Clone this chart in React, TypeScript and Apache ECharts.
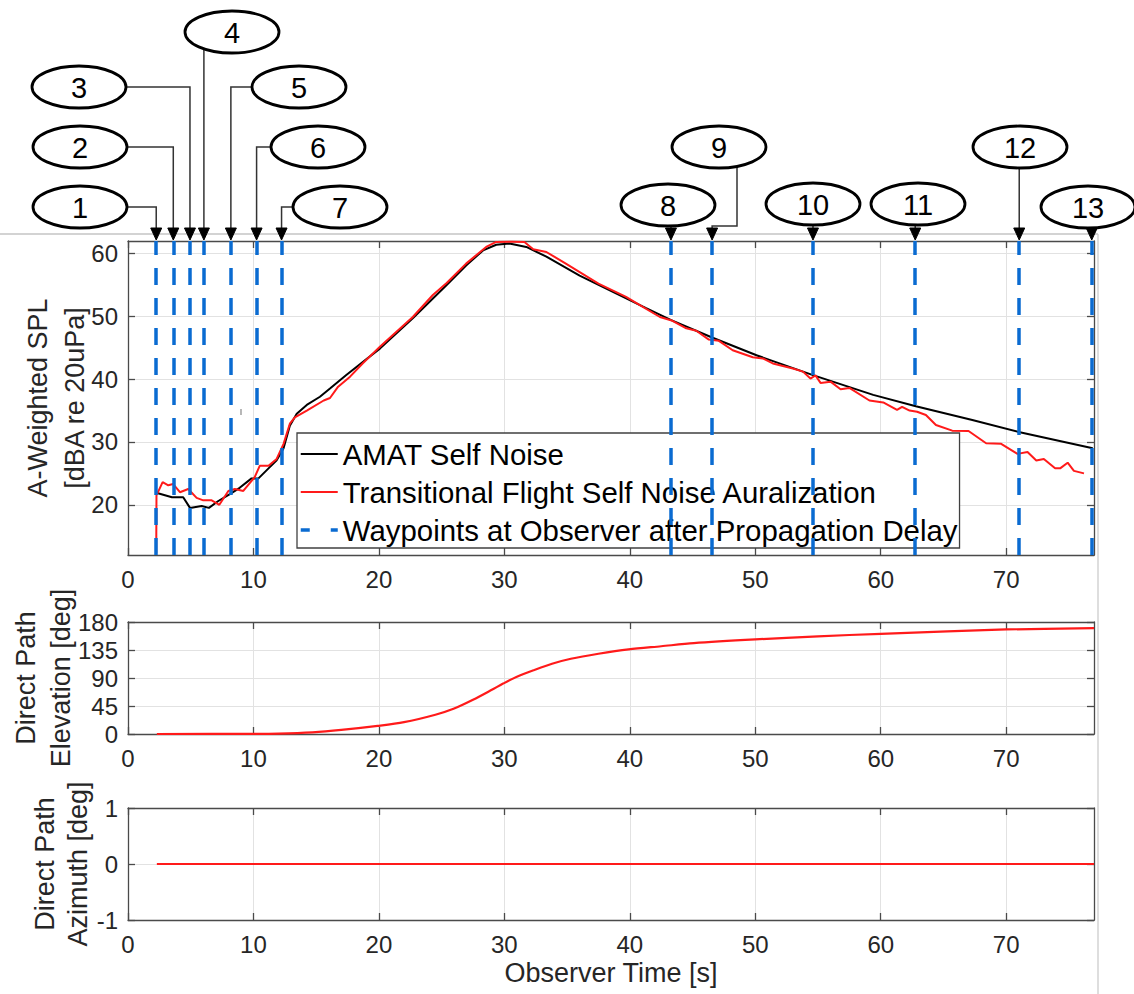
import React, { useEffect, useRef } from "react";
import * as echarts from "echarts";

const FONT = "'Liberation Sans', Arial, Helvetica, sans-serif";

// ---------- data ----------
const amatTime = [2.25, 3.5, 4.4, 4.94, 5.87, 6.45, 7.2, 8.12, 8.9, 9.85, 10.4, 11.2, 11.85, 12.4, 12.9, 13.45, 14.25, 15.3, 16.1, 17.4, 20.1, 22.7, 25.4, 26.95, 28.3, 29.35, 30.4, 31.75, 33.35, 36.0, 38.65, 41.3, 43.3, 46.6, 50.1, 54.6, 59.4, 62.8, 67.3, 71.0, 76.9];
const amatSpl = [21.9, 21.2, 21.2, 19.5, 19.8, 19.5, 20.6, 21.7, 22.7, 24.2, 24.2, 25.8, 27.1, 29.0, 32.6, 34.5, 35.9, 37.2, 38.5, 40.65, 44.9, 49.7, 55.0, 58.1, 60.5, 61.4, 61.6, 61.05, 59.5, 56.5, 53.9, 51.3, 49.4, 46.6, 43.8, 40.65, 37.5, 35.7, 33.5, 31.6, 29.0];

const auralTime = [2.25, 2.27, 2.76, 3.21, 3.6, 4.14, 4.8, 5.47, 6.0, 6.67, 7.28, 8.0, 8.52, 9.19, 10.1, 10.5, 11.2, 11.85, 12.4, 12.9, 13.3, 14.25, 15.6, 16.1, 16.75, 17.7, 18.7, 20.1, 22.7, 24.3, 25.4, 26.95, 28.55, 29.35, 30.65, 31.6, 32.3, 33.35, 34.9, 36.2, 37.5, 39.7, 40.8, 42.4, 43.4, 44.5, 45.3, 46.3, 47.1, 48.2, 49.8, 50.6, 51.4, 53.0, 53.8, 54.4, 54.8, 55.2, 56.0, 56.8, 57.5, 59.1, 60.2, 61.3, 61.7, 62.3, 62.9, 63.6, 64.4, 65.7, 67.0, 68.4, 69.6, 70.9, 71.7, 72.4, 73.0, 73.9, 74.3, 74.9, 75.4, 76.2];
const auralSpl = [12.3, 21.5, 23.6, 23.1, 23.3, 22.0, 22.5, 21.1, 20.7, 20.7, 20.0, 22.2, 22.5, 22.2, 24.4, 26.2, 26.2, 27.3, 29.7, 32.9, 33.9, 35.0, 36.6, 37.0, 38.8, 40.4, 42.5, 45.2, 49.9, 53.4, 55.3, 58.4, 61.05, 61.85, 61.9, 61.85, 60.7, 60.25, 58.4, 56.8, 55.2, 53.1, 51.8, 49.9, 49.3, 48.1, 47.7, 46.3, 46.1, 44.6, 43.5, 43.3, 42.5, 41.7, 41.2, 40.1, 40.6, 39.4, 39.6, 38.4, 38.6, 36.6, 36.3, 35.1, 35.6, 35.0, 34.8, 34.3, 32.7, 31.8, 31.75, 29.8, 29.7, 28.1, 28.4, 27.05, 27.3, 25.8, 25.8, 26.7, 25.4, 25.0];

const waypointTimes = [2.25, 3.61, 4.94, 6.05, 8.2, 10.25, 12.24, 43.28, 46.56, 54.6, 62.75, 71.04, 76.82];
const waypointLabels = ["1", "2", "3", "4", "5", "6", "7", "8", "9", "10", "11", "12", "13"];

const elevTime = [2.3, 10, 12, 14.7, 17, 19.9, 22, 24.5, 26, 27.5, 29, 29.9, 31, 32.4, 33.8, 35.3, 37.5, 39.9, 42.5, 45.1, 50, 55, 60, 65.3, 70, 77];
const elevDeg = [0, 0.2, 0.6, 2.7, 6.5, 13, 19, 31, 41, 55, 71, 81, 92, 103, 113, 121, 129, 136, 141, 146, 152, 157, 161, 165, 168, 170];

const azimTime = [2.3, 20, 40, 60, 77];
const azimDeg = [0, 0, 0, 0, 0];

const xTicks = [0, 10, 20, 30, 40, 50, 60, 70];
const splTicks = [20, 30, 40, 50, 60];
const elevTicks = [0, 45, 90, 135, 180];
const azimTicks = [-1, 0, 1];

const seriesNames = [
  "AMAT Self Noise",
  "Transitional Flight Self Noise Auralization",
  "Waypoints at Observer after Propagation Delay",
];

// ---------- layout (callout bubbles) ----------
const callouts = [
  { cx: 80, cy: 207, route: "left" },
  { cx: 80, cy: 147, route: "left" },
  { cx: 79, cy: 87, route: "left" },
  { cx: 232, cy: 32, route: "down" },
  { cx: 299, cy: 87, route: "right" },
  { cx: 318, cy: 147, route: "right" },
  { cx: 340, cy: 207, route: "right" },
  { cx: 668, cy: 205, route: "down" },
  { cx: 719, cy: 147, route: "jog", jx: 737 },
  { cx: 813, cy: 204, route: "down" },
  { cx: 918, cy: 204, route: "down" },
  { cx: 1020, cy: 147, route: "down" },
  { cx: 1088, cy: 207, route: "down" },
];

const AX = "#4a4a4a";
const TXT = "#262626";
const GRIDC = "#e2e2e2";
const BLUE = "#0a6bd1";
const RED = "#ff1a1a";

const pair = (a: number[], b: number[]) => a.map((v, i) => [v, b[i]]);

function xAxes(gridIndex: number, withName: boolean) {
  return [
    {
      type: "value",
      gridIndex,
      min: 0,
      max: 77,
      position: "bottom",
      axisLine: { show: true, onZero: false, lineStyle: { color: AX, width: 1.3 } },
      axisTick: { show: true, inside: true, length: 7, customValues: xTicks, lineStyle: { color: AX, width: 1.3 } },
      axisLabel: { show: true, customValues: xTicks, fontSize: 24, color: TXT, margin: 12, fontFamily: FONT },
      splitLine: { show: true, lineStyle: { color: GRIDC, width: 1 } },
      name: withName ? "Observer Time [s]" : "",
      nameLocation: "middle",
      nameGap: 39,
      nameMoveOverlap: false,
      nameTextStyle: { fontSize: 27, color: TXT, fontFamily: FONT },
    },
    {
      type: "value",
      gridIndex,
      min: 0,
      max: 77,
      position: "top",
      axisLine: { show: true, onZero: false, lineStyle: { color: AX, width: 1.3 } },
      axisTick: { show: true, inside: true, length: 7, customValues: xTicks, lineStyle: { color: AX, width: 1.3 } },
      axisLabel: { show: false },
      splitLine: { show: false },
    },
  ];
}

function yAxes(
  gridIndex: number,
  min: number,
  max: number,
  ticks: number[],
  name: string,
  nameGap: number,
  lineHeight: number
) {
  return [
    {
      type: "value",
      gridIndex,
      min,
      max,
      position: "left",
      axisLine: { show: true, onZero: false, lineStyle: { color: AX, width: 1.3 } },
      axisTick: { show: true, inside: true, length: 7, customValues: ticks, lineStyle: { color: AX, width: 1.3 } },
      axisLabel: { show: true, customValues: ticks, fontSize: 24, color: TXT, margin: 10, fontFamily: FONT },
      splitLine: { show: true, lineStyle: { color: GRIDC, width: 1 } },
      name,
      nameLocation: "middle",
      nameRotate: 90,
      nameGap,
      nameMoveOverlap: false,
      nameTextStyle: { fontSize: 27, lineHeight, color: TXT, fontFamily: FONT, align: "center" },
    },
    {
      type: "value",
      gridIndex,
      min,
      max,
      position: "right",
      axisLine: { show: true, onZero: false, lineStyle: { color: AX, width: 1.3 } },
      axisTick: { show: true, inside: true, length: 7, customValues: ticks, lineStyle: { color: AX, width: 1.3 } },
      axisLabel: { show: false },
      splitLine: { show: false },
    },
  ];
}

function buildOption(): any {
  const g = { outerBoundsMode: "none", containLabel: false, width: 966, left: 128 };
  return {
    animation: false,
    backgroundColor: "#fff",
    textStyle: { fontFamily: FONT },
    grid: [
      { ...g, top: 241, height: 314 },
      { ...g, top: 622, height: 112 },
      { ...g, top: 808, height: 112 },
    ],
    xAxis: [...xAxes(0, false), ...xAxes(1, false), ...xAxes(2, true)],
    yAxis: [
      ...yAxes(0, 12, 62, splTicks, "A-Weighted SPL\n[dBA re 20uPa]", 35, 37),
      ...yAxes(1, 0, 180, elevTicks, "Direct Path\nElevation [deg]", 50, 35),
      ...yAxes(2, -1, 1, azimTicks, "Direct Path\nAzimuth [deg]", 34, 33),
    ],
    legend: {
      left: 297,
      top: 433,
      orient: "vertical",
      data: [
        { name: seriesNames[0] },
        { name: seriesNames[1] },
        { name: seriesNames[2], lineStyle: { type: [9, 21], width: 3.5, color: BLUE } },
      ],
      itemWidth: 37,
      itemHeight: 14,
      itemGap: 8,
      padding: [6, 2, 3, 2],
      backgroundColor: "#fff",
      borderColor: "#404040",
      borderWidth: 1.3,
      borderRadius: 0,
      selectedMode: false,
      itemStyle: { opacity: 0 },
      textStyle: { fontSize: 29.4, lineHeight: 30, color: "#000", fontFamily: FONT },
    },
    series: [
      {
        name: seriesNames[0],
        type: "line",
        xAxisIndex: 0,
        yAxisIndex: 0,
        data: pair(amatTime, amatSpl),
        symbol: "none",
        lineStyle: { color: "#000", width: 2 },
        itemStyle: { color: "#000" },
        z: 2,
      },
      {
        name: seriesNames[1],
        type: "line",
        xAxisIndex: 0,
        yAxisIndex: 0,
        data: pair(auralTime, auralSpl),
        symbol: "none",
        lineStyle: { color: RED, width: 2 },
        itemStyle: { color: RED },
        z: 3,
      },
      {
        name: seriesNames[2],
        type: "line",
        xAxisIndex: 0,
        yAxisIndex: 0,
        data: [],
        symbol: "none",
        lineStyle: { color: BLUE, width: 3.5, type: [17, 13] },
        itemStyle: { color: BLUE },
        z: 4,
        markLine: {
          silent: true,
          symbol: ["none", "none"],
          label: { show: false },
          lineStyle: { color: BLUE, width: 3.5, type: [17, 13] },
          data: waypointTimes.map((t) => ({ xAxis: t })),
        },
      },
      {
        name: "Elevation",
        type: "line",
        xAxisIndex: 2,
        yAxisIndex: 2,
        data: pair(elevTime, elevDeg),
        symbol: "none",
        smooth: 0.3,
        lineStyle: { color: RED, width: 2.2 },
      },
      {
        name: "Azimuth",
        type: "line",
        xAxisIndex: 4,
        yAxisIndex: 4,
        data: pair(azimTime, azimDeg),
        symbol: "none",
        lineStyle: { color: RED, width: 2.2 },
      },
    ],
  };
}

function buildGraphic(ax: number[]) {
  const RX = 47;
  const RY = 21;
  const ARROW_TOP = 228;
  const ARROW_TIP = 240;
  const els: any[] = [];
  // frame lines of the pasted figure
  els.push({ type: "line", shape: { x1: 0, y1: 234, x2: 1098, y2: 234 }, style: { stroke: "#a8a8a8", lineWidth: 1.2 }, z: 1 });
  els.push({ type: "line", shape: { x1: 1098, y1: 234, x2: 1098, y2: 994 }, style: { stroke: "#c8c8c8", lineWidth: 1.2 }, z: 1 });
  els.push({ type: "line", shape: { x1: 241, y1: 409, x2: 241, y2: 415 }, style: { stroke: "#888", lineWidth: 1.2 }, z: 1 });

  callouts.forEach((c, i) => {
    const x = ax[i];
    let pts: number[][] = [];
    if (c.route === "left") {
      pts = [[c.cx + RX, c.cy], [x, c.cy], [x, ARROW_TOP]];
    } else if (c.route === "right") {
      pts = [[c.cx - RX, c.cy], [x, c.cy], [x, ARROW_TOP]];
    } else if (c.route === "down") {
      const d = Math.min(1, Math.abs(x - c.cx) / RX);
      const yb = c.cy + RY * Math.sqrt(1 - d * d);
      pts = [[x, yb], [x, ARROW_TOP]];
    } else {
      const jx = (c as any).jx as number;
      const d = Math.min(1, Math.abs(jx - c.cx) / RX);
      const yb = c.cy + RY * Math.sqrt(1 - d * d);
      pts = [[jx, yb], [jx, 226], [x, 226], [x, ARROW_TOP]];
    }
    els.push({ type: "polyline", shape: { points: pts }, style: { stroke: "#333", lineWidth: 1.5, fill: null }, z: 5 });
    els.push({
      type: "polygon",
      shape: { points: [[x - 5.5, ARROW_TOP], [x + 5.5, ARROW_TOP], [x, ARROW_TIP]] },
      style: { fill: "#000", stroke: "#000", lineWidth: 1 },
      z: 6,
    });
    els.push({
      type: "ellipse",
      shape: { cx: c.cx, cy: c.cy, rx: RX, ry: RY },
      style: { fill: "#fff", stroke: "#000", lineWidth: 2.8 },
      z: 7,
    });
    els.push({
      type: "text",
      x: c.cx,
      y: c.cy + 1,
      style: {
        text: waypointLabels[i],
        fontSize: 29,
        fontFamily: FONT,
        fill: "#000",
        align: "center",
        verticalAlign: "middle",
      },
      z: 8,
    });
  });
  return els;
}

export default function App() {
  const ref = useRef<HTMLDivElement>(null);
  useEffect(() => {
    const chart = echarts.init(ref.current!, null, { renderer: "svg" });
    chart.setOption(buildOption());
    const ax = waypointTimes.map((t) => chart.convertToPixel({ xAxisIndex: 0 }, t) as number);
    chart.setOption({ graphic: { elements: buildGraphic(ax) } });
    return () => chart.dispose();
  }, []);
  return (
    <div
      ref={ref}
      style={{ position: "fixed", left: 0, top: 0, width: 1134, height: 994, background: "#fff" }}
    />
  );
}
